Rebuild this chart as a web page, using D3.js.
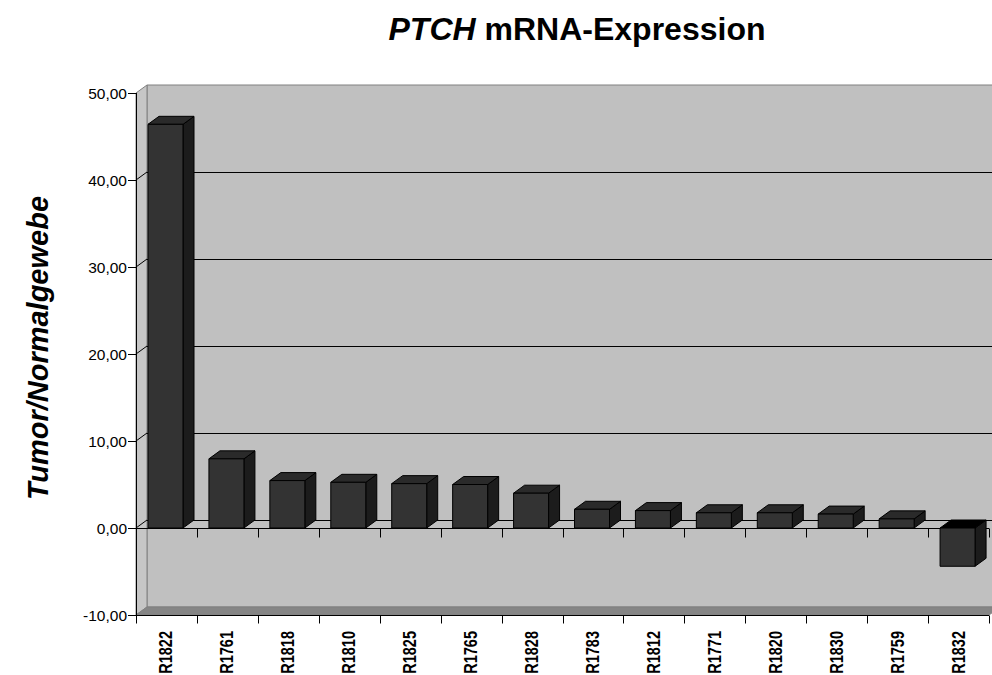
<!DOCTYPE html>
<html>
<head>
<meta charset="utf-8">
<script src="https://cdn.jsdelivr.net/npm/d3@7"></script>
<style>
  html, body { margin: 0; padding: 0; background: #fff; }
  svg { display: block; }
  text { font-family: Arial, "Liberation Sans", sans-serif; }
</style>
</head>
<body>
<svg id="chart" width="992" height="675"></svg>
<script>
const categories = ["R1822","R1761","R1818","R1810","R1825","R1765","R1828","R1783","R1812","R1771","R1820","R1830","R1759","R1832"];
const values = [46.4, 7.95, 5.45, 5.25, 5.1, 5.0, 4.0, 2.15, 2.0, 1.75, 1.75, 1.6, 1.05, -4.4];
const yTicks = [-10, 0, 10, 20, 30, 40, 50];
const titleItalic = "PTCH";
const titleRest = " mRNA-Expression";
const yTitle = "Tumor/Normalgewebe";

const svg = d3.select("#chart");
const x0 = 136, x1 = 989;
const dx = 11, dy = -8;

const x = d3.scaleBand().domain(categories).range([x0, x1]).padding(0);
const y = d3.scaleLinear().domain([-10, 50]).range([615, 93]);
const fmt = d3.formatLocale({decimal: ",", thousands: ".", grouping: [3], currency: ["", "€"], minus: "-"}).format(".2f");

const poly = pts => pts.map(p => p.join(",")).join(" ");
const yMin = y(-10), yMax = y(50);

// back wall
svg.append("polygon")
  .attr("points", poly([[x0+dx, yMax+dy],[x1+dx, yMax+dy],[x1+dx, yMin+dy],[x0+dx, yMin+dy]]))
  .attr("fill", "#c0c0c0").attr("stroke", "#808080").attr("stroke-width", 1);
// side wall
svg.append("polygon")
  .attr("points", poly([[x0, yMax],[x0+dx, yMax+dy],[x0+dx, yMin+dy],[x0, yMin]]))
  .attr("fill", "#c6c6c6").attr("stroke", "#808080").attr("stroke-width", 1);
// floor
svg.append("polygon")
  .attr("points", poly([[x0, yMin],[x1, yMin],[x1+dx, yMin+dy],[x0+dx, yMin+dy]]))
  .attr("fill", "#858585").attr("stroke", "#808080").attr("stroke-width", 1);

// gridlines
const grid = yTicks.filter(t => t > -10 && t < 50);
svg.append("g").selectAll("line.g").data(grid).join("line")
  .attr("x1", x0+dx).attr("x2", x1+dx)
  .attr("y1", d => Math.round(y(d)+dy)+0.5).attr("y2", d => Math.round(y(d)+dy)+0.5)
  .attr("stroke", "#000").attr("stroke-width", 1);
svg.append("g").selectAll("line.d").data(grid).join("line")
  .attr("x1", x0).attr("x2", x0+dx)
  .attr("y1", d => y(d)).attr("y2", d => y(d)+dy)
  .attr("stroke", "#000").attr("stroke-width", 1);

// category axis at zero
const y0 = Math.round(y(0)) + 0.5;
svg.append("line").attr("x1", x0).attr("x2", x1).attr("y1", y0).attr("y2", y0)
  .attr("stroke", "#000").attr("stroke-width", 1);
const bounds = categories.map(c => x(c)).concat([x1]);
svg.append("g").selectAll("line").data(bounds).join("line")
  .attr("x1", d => Math.round(d)+0.5).attr("x2", d => Math.round(d)+0.5)
  .attr("y1", y0).attr("y2", y0 + 9)
  .attr("stroke", "#000").attr("stroke-width", 1);

// bottom axis
const yb = Math.round(yMin) + 0.5;
svg.append("line").attr("x1", x0).attr("x2", x1).attr("y1", yb).attr("y2", yb)
  .attr("stroke", "#000").attr("stroke-width", 1);
svg.append("g").selectAll("line").data(bounds).join("line")
  .attr("x1", d => Math.round(d)+0.5).attr("x2", d => Math.round(d)+0.5)
  .attr("y1", yb).attr("y2", yb + 8)
  .attr("stroke", "#000").attr("stroke-width", 1);

// bars
const barOff = 12, barW = 35;
const bars = svg.append("g");
categories.forEach((c, i) => {
  const v = values[i];
  const bx = x(c) + barOff;
  const top = y(Math.max(v, 0)), bot = y(Math.min(v, 0));
  const g = bars.append("g").attr("stroke", "#000").attr("stroke-width", 1).attr("stroke-linejoin", "round");
  g.append("polygon")
    .attr("points", poly([[bx+barW, top],[bx+barW+dx, top+dy],[bx+barW+dx, bot+dy],[bx+barW, bot]]))
    .attr("fill", "#1c1c1c");
  g.append("polygon")
    .attr("points", poly([[bx, top],[bx+dx, top+dy],[bx+barW+dx, top+dy],[bx+barW, top]]))
    .attr("fill", v < 0 ? "#000000" : "#2a2a2a");
  g.append("rect").attr("x", bx).attr("y", top).attr("width", barW).attr("height", bot - top)
    .attr("fill", "#333333");
});

// y axis
svg.append("line").attr("x1", x0+0.5).attr("x2", x0+0.5).attr("y1", yMax).attr("y2", yMin)
  .attr("stroke", "#000").attr("stroke-width", 1);
svg.append("g").selectAll("line").data(yTicks).join("line")
  .attr("x1", x0 - 8).attr("x2", x0)
  .attr("y1", d => Math.round(y(d))+0.5).attr("y2", d => Math.round(y(d))+0.5)
  .attr("stroke", "#000").attr("stroke-width", 1);
svg.append("g").selectAll("text").data(yTicks).join("text")
  .attr("x", x0 - 9).attr("y", d => y(d)).attr("dy", "0.36em")
  .attr("text-anchor", "end").attr("font-size", 15.5).attr("fill", "#000")
  .text(d => fmt(d));

// category labels
svg.append("g").selectAll("text").data(categories).join("text")
  .attr("transform", c => `translate(${x(c) + x.bandwidth()/2 + 6},631) rotate(-90) scale(1,1.25)`)
  .attr("text-anchor", "end").attr("font-size", 14.5).attr("font-weight", "bold").attr("fill", "#000")
  .text(c => c);

// title
const t = svg.append("text").attr("x", 577).attr("y", 40).attr("text-anchor", "middle")
  .attr("font-size", 32).attr("font-weight", "bold").attr("fill", "#000");
t.append("tspan").attr("font-style", "italic").text(titleItalic);
t.append("tspan").text(titleRest);

// y title
svg.append("text").attr("transform", "translate(48,348) rotate(-90)")
  .attr("text-anchor", "middle").attr("font-size", 29).attr("font-weight", "bold")
  .attr("font-style", "italic").attr("fill", "#000").text(yTitle);
</script>
</body>
</html>
